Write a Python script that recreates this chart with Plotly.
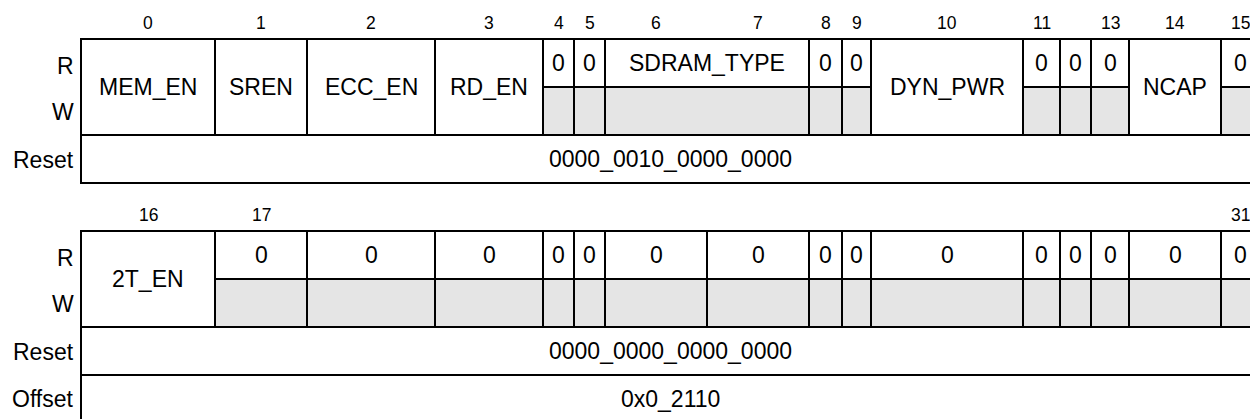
import plotly.graph_objects as go

# ---------------- data ----------------
top_bit_labels = ["0", "1", "2", "3", "4", "5", "6", "7", "8", "9", "10", "11", "", "13", "14", "15"]
bottom_bit_labels = ["16", "17", "", "", "", "", "", "", "", "", "", "", "", "", "", "31"]

fields1_names = ["MEM_EN", "SREN", "ECC_EN", "RD_EN", "0", "0", "SDRAM_TYPE", "0", "0",
                 "DYN_PWR", "0", "0", "0", "NCAP", "0"]
fields1_start = [0, 1, 2, 3, 4, 5, 6, 8, 9, 10, 11, 12, 13, 14, 15]
fields1_end = [0, 1, 2, 3, 4, 5, 7, 8, 9, 10, 11, 12, 13, 14, 15]
fields1_access = ["rw", "rw", "rw", "rw", "r", "r", "r", "r", "r", "rw", "r", "r", "r", "rw", "r"]

fields2_names = ["2T_EN"] + ["0"] * 15
fields2_start = list(range(16))
fields2_end = list(range(16))
fields2_access = ["rw"] + ["r"] * 15

reset1 = "0000_0010_0000_0000"
reset2 = "0000_0000_0000_0000"
offset_value = "0x0_2110"

row_names = ["R", "W", "Reset", "Offset"]

# ---------------- layout / style ----------------
W, H = 1250, 419
COL_WIDTHS = [134, 92, 128, 108, 31, 31, 102, 102, 33, 29, 152, 37, 31, 38, 92, 39]
LEFT = 81
ROW_H = 48
TABLE_TOPS = [39, 231]
BIT_LABEL_GAP = 16
LABEL_X = 76
GREY = "#e5e5e5"
LINE = dict(color="black", width=2)
FONT = "Liberation Sans, Arial, Helvetica, sans-serif"
MAIN_SIZE = 23
BIT_SIZE = 17.5

edges = [LEFT]
for w in COL_WIDTHS:
    edges.append(edges[-1] + w)
RIGHT = edges[-1]

shapes = []
annotations = []


def text(x, y, s, size=MAIN_SIZE, xanchor="center"):
    annotations.append(dict(x=x, y=y, xref="x", yref="y", text=s, showarrow=False,
                            xanchor=xanchor, yanchor="middle",
                            font=dict(family=FONT, size=size, color="black")))


def rect(x0, x1, y0, y1, fill="white"):
    shapes.append(dict(type="rect", xref="x", yref="y", x0=x0, x1=x1, y0=y0, y1=y1,
                       fillcolor=fill, line=LINE, layer="above"))


def draw_table(top, bit_labels, names, starts, ends, access, reset, offset=None):
    r_top, w_top, reset_top = top, top + ROW_H, top + 2 * ROW_H
    reset_bot = top + 3 * ROW_H
    # bit labels
    for i, lab in enumerate(bit_labels):
        if lab:
            text((edges[i] + edges[i + 1]) / 2, top - BIT_LABEL_GAP, lab, size=BIT_SIZE)
    # fields
    for name, s, e, acc in zip(names, starts, ends, access):
        x0, x1 = edges[s], edges[e + 1]
        xc = (x0 + x1) / 2
        if acc == "rw":
            rect(x0, x1, r_top, reset_top)
            text(xc, (r_top + reset_top) / 2, name)
        else:
            rect(x0, x1, r_top, w_top)
            rect(x0, x1, w_top, reset_top, fill=GREY)
            text(xc, (r_top + w_top) / 2, name)
    # reset row
    rect(LEFT, RIGHT, reset_top, reset_bot)
    text((LEFT + RIGHT) / 2, (reset_top + reset_bot) / 2, reset)
    # row labels
    text(LABEL_X, (r_top + w_top) / 2 + 3, row_names[0], xanchor="right")
    text(LABEL_X, (w_top + reset_top) / 2 + 1, row_names[1], xanchor="right")
    text(LABEL_X, (reset_top + reset_bot) / 2 + 1, row_names[2], xanchor="right")
    if offset is not None:
        off_bot = reset_bot + ROW_H
        rect(LEFT, RIGHT, reset_bot, off_bot)
        text((LEFT + RIGHT) / 2, (reset_bot + off_bot) / 2, offset)
        text(LABEL_X, (reset_bot + off_bot) / 2, row_names[3], xanchor="right")


draw_table(TABLE_TOPS[0], top_bit_labels, fields1_names, fields1_start, fields1_end,
           fields1_access, reset1)
draw_table(TABLE_TOPS[1], bottom_bit_labels, fields2_names, fields2_start, fields2_end,
           fields2_access, reset2, offset_value)

fig = go.Figure()
fig.add_trace(go.Scatter(x=[0, W], y=[0, H], mode="markers",
                         marker=dict(opacity=0), hoverinfo="skip", showlegend=False))
fig.update_layout(
    width=W, height=H,
    margin=dict(l=0, r=0, t=0, b=0),
    paper_bgcolor="white", plot_bgcolor="white",
    xaxis=dict(range=[0, W], visible=False, fixedrange=True),
    yaxis=dict(range=[H, 0], visible=False, fixedrange=True),
    shapes=shapes, annotations=annotations, showlegend=False,
)
fig.write_html("out.html", config={"displayModeBar": False},
               post_script="document.body.style.margin='0';document.body.style.overflow='hidden';")
